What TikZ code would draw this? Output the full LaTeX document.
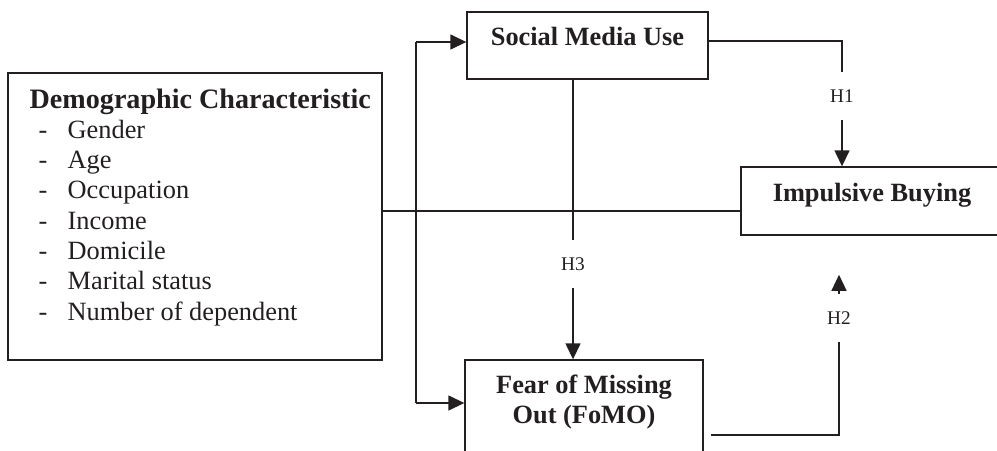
\documentclass[tikz,border=0pt]{standalone}
\usepackage{fontspec}
\setmainfont{Liberation Serif}
\usetikzlibrary{positioning,arrows.meta}
\definecolor{ink}{HTML}{231F20}

\begin{document}
\begin{tikzpicture}[
  x=0.02cm, y=-0.02cm,
  color=ink, line width=0.8pt,
  mybox/.style={draw,rectangle,align=center,font=\fontsize{15}{17.25}\selectfont\bfseries},
  oneline/.style={text height=0.35cm,text depth=0.35cm},
  myhyp/.style={font=\fontsize{11}{13}\selectfont,text height=0.26cm,text depth=0pt,inner xsep=2pt,inner ysep=0.34cm},
  myitem/.style={anchor=base west,inner sep=0pt,font=\fontsize{15}{17.25}\selectfont},
  myarrow/.style={-{Triangle[length=0.32cm,width=0.3cm]}}
]
\useasboundingbox (0,0) rectangle (997,450);
\clip (0,0) rectangle (997,450);

% demographic box
\node[draw,minimum width=7.48cm,minimum height=5.74cm] (demo) at (195,216.5) {};
\node[myitem,font=\fontsize{16}{18}\selectfont\bfseries] (demotitle) at (29,108) {Demographic Characteristic};
\foreach \lbl [count=\i] in {Gender,Age,Occupation,Income,Domicile,Marital status,Number of dependent} {
  \node[myitem] (dash\i) at (38,108+30.3*\i) {-};
  \node[myitem] (item\i) at (67,108+30.3*\i) {\lbl};
}

% variables
\node[mybox,oneline,minimum width=4.82cm,minimum height=1.34cm] (social) at (587.5,45.5) {Social Media Use};
\node[mybox,oneline,minimum width=5.24cm,minimum height=1.36cm] (ib) at (872,201) {Impulsive Buying};
\node[mybox,minimum width=4.76cm,minimum height=2cm] (fomo) at (584,410) {};
\node[mybox,draw=none] (fomotext) at (584,402) {Fear of Missing\\Out (FoMO)};

% demographic links
\coordinate (bustop) at (416,42);
\coordinate (busbot) at (416,403);
\draw (bustop) -- (busbot);
\draw[myarrow] (bustop) -- (bustop -| social.west);
\draw[myarrow] (busbot) -- (busbot -| fomo.west);
\coordinate (dl) at (382,211);
\draw (demo.east |- dl) -- (dl -| ib.west);

% hypotheses
\node[myhyp] (h1) at (842,96) {H1};
\coordinate (h1c) at (842,41);
\draw (social.east |- h1c) -- (h1c) -- (h1.north);
\draw[myarrow] (h1.south) -- (h1.south |- ib.north);

\node[myhyp] (h3) at (573,264) {H3};
\draw (h3 |- social.south) -- (h3.north);
\draw[myarrow] (h3.south) -- (h3 |- fomo.north);

\node[myhyp] (h2) at (839,318) {H2};
\coordinate (h2c) at (839,435);
\draw[shorten <=0.14cm] (fomo.east |- h2c) -- (h2c) -- (h2.south);
\draw[myarrow] (h2.north) -- ++(0,-19);

\end{tikzpicture}
\end{document}
